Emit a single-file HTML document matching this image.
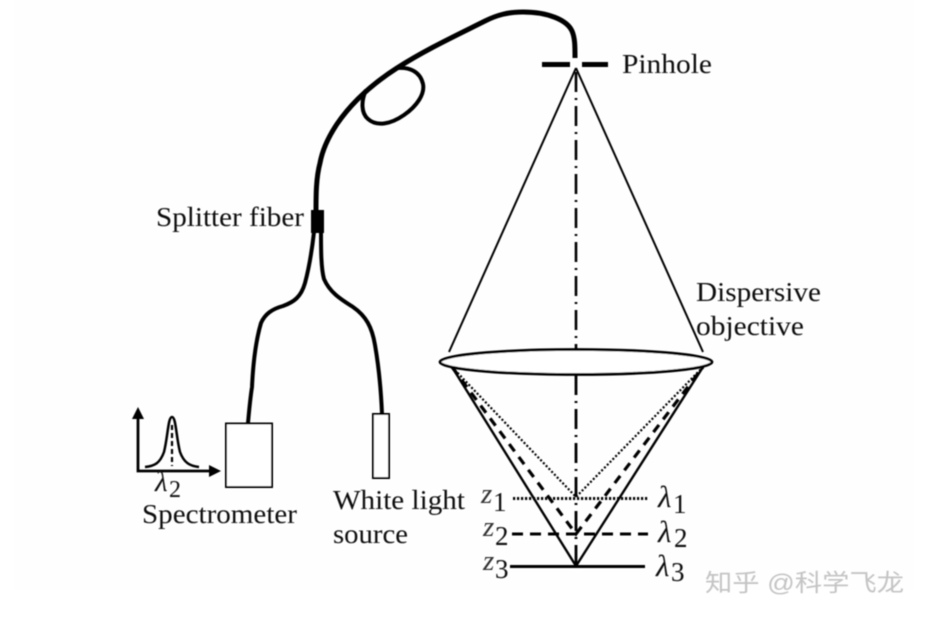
<!DOCTYPE html>
<html><head><meta charset="utf-8"><style>
html,body{margin:0;padding:0;background:#fff;width:928px;height:621px;overflow:hidden}
svg{display:block}
text{font-family:"Liberation Serif",serif;fill:#111;font-size:27px}
.w{font-family:"Liberation Sans","Noto Sans CJK SC",sans-serif;font-size:24px;fill:#c4c4c4}
.s{font-size:27px}
.l{font-size:31px;font-style:italic}
.z{font-size:29px;font-style:italic;fill:#333}
</style></head><body>
<svg width="928" height="621" viewBox="0 0 928 621" xmlns="http://www.w3.org/2000/svg">
<defs><filter id="b" filterUnits="userSpaceOnUse" x="0" y="0" width="928" height="621"><feGaussianBlur stdDeviation="0.45"/></filter></defs>
<rect width="928" height="621" fill="#fff"/>
<rect x="14" y="0" width="900" height="590" fill="#fefefe"/>
<g filter="url(#b)">
<g fill="none" stroke="#000" stroke-linecap="butt">
<path d="M575 58C575 46 575 38 572 31C567 20 548 12 523 12C508 12 497 15 485 21C455 36 425 50 397 68C372 84 352 102 337 124C327 139 322 152 320 163C316 178 316 195 316 212" stroke-width="5"/>
<path d="M366 90C361 101 361 113 368 119C377 127 391 124 404 115C417 106 425 94 423 84C420 71 409 67 397 68" stroke-width="4"/>
<path d="M314 232C312 250 309 268 305 283C301 297 294 302 283 306C272 309 265 314 261 323C256 340 253 365 252 387C250 400 249 412 248 423" stroke-width="4"/>
<path d="M321 232C321 250 321 268 324 279C330 293 342 300 353 307C366 316 372 327 375 345C379 368 381 390 382 414" stroke-width="4"/>
<path d="M542 64.500H570M582 64.500H608" stroke-width="5"/>
<path d="M576 68L449 352M576 68L703 352" stroke-width="2"/>
<path d="M576 72V349" stroke-width="2.600" stroke-dasharray="20 6 2 6"/>
<ellipse cx="576" cy="362" rx="136" ry="12.500" stroke-width="2.800" fill="#fff"/>
<path d="M576 375V566" stroke-width="2.800" stroke-dasharray="20 6 2 6"/>
<path d="M452 367L576 566L703 367" stroke-width="2.400"/>
<path d="M452 367L576 534L703 367" stroke-width="3.200" stroke-dasharray="9 7"/>
<path d="M452 367L576 497L703 367" stroke-width="2.200" stroke-dasharray="2 2"/>
<path d="M513 498.500H649" stroke-width="3" stroke-dasharray="2.200 1.800"/>
<path d="M512 534H648" stroke-width="3" stroke-dasharray="11 7"/>
<path d="M510 566.500H645" stroke-width="3"/>
<rect x="226" y="423.500" width="46" height="63.500" stroke-width="2" fill="#fff"/>
<rect x="373" y="414" width="16" height="64" stroke-width="2" fill="#fff"/>
<path d="M138 414V471H214" stroke-width="2.800"/>
<path d="M145 467C155 466 160 463 164 452C168 436 168 417 172 417C176 417 176 436 180 452C184 463 190 466 199 467" stroke-width="2.500"/>
<path d="M172 425V466" stroke-width="2.200" stroke-dasharray="5 3"/>
</g>
<rect x="311" y="210" width="13" height="23" fill="#000"/>
<path d="M138 407L132 419H144ZM221 471L209 465V477Z" fill="#000"/>
<text x="622" y="73" textLength="90" lengthAdjust="spacingAndGlyphs">Pinhole</text>
<text x="156" y="226" textLength="148" lengthAdjust="spacingAndGlyphs">Splitter fiber</text>
<text x="696" y="301" textLength="125" lengthAdjust="spacingAndGlyphs">Dispersive</text>
<text x="696" y="335" textLength="108" lengthAdjust="spacingAndGlyphs">objective</text>
<text x="142" y="523" textLength="155" lengthAdjust="spacingAndGlyphs">Spectrometer</text>
<text x="333" y="509" textLength="132" lengthAdjust="spacingAndGlyphs">White light</text>
<text x="333" y="543" textLength="75" lengthAdjust="spacingAndGlyphs">source</text>
<text x="155" y="491" style="font-size:29px;font-style:italic">λ</text><text x="169" y="497" style="font-size:24px">2</text>
<text x="481" y="503" class="z">z</text><text x="493" y="511" class="s">1</text>
<text x="483" y="536" class="z">z</text><text x="495" y="545" class="s">2</text>
<text x="483" y="570" class="z">z</text><text x="495" y="578" class="s">3</text>
<text x="658" y="507" class="l">λ</text><text x="673" y="513" class="s">1</text>
<text x="658" y="542" class="l">λ</text><text x="674" y="547" class="s">2</text>
<text x="656" y="576" class="l">λ</text><text x="671" y="581" class="s">3</text>
<text x="705" y="591" class="w" textLength="199" lengthAdjust="spacingAndGlyphs">知乎 @科学飞龙</text>
</g>
</svg>
</body></html>
